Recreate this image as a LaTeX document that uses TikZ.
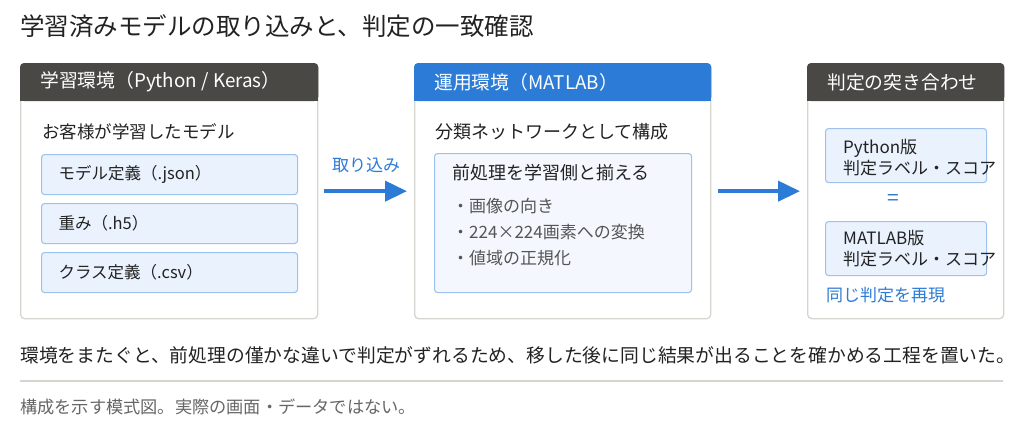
\documentclass[tikz,border=0pt]{standalone}
\usepackage{fontspec}
\setmainfont{Noto Sans CJK JP}
\usetikzlibrary{arrows.meta,positioning,calc}
\definecolor{hdark}{HTML}{4A4844}
\definecolor{hblue}{HTML}{2C7BD6}
\definecolor{ink}{HTML}{222222}
\definecolor{muted}{HTML}{555555}
\definecolor{faint}{HTML}{666666}
\definecolor{line}{HTML}{D6D6D1}
\definecolor{pale}{HTML}{EAF3FD}
\definecolor{paler}{HTML}{F4F8FE}
\definecolor{edge}{HTML}{9DC3EC}
\tikzset{arr/.style={-{Triangle[length=22pt,width=20pt]},line width=4pt,draw=hblue},
  panel/.style={rounded corners=4pt,draw=line,line width=1.3pt,fill=white,anchor=north west,minimum height=255pt},
  hdr/.style={anchor=west,text=white,inner sep=0pt,font=\fontsize{18.8}{22}\selectfont},
  txt/.style={anchor=west,text=ink,inner sep=0pt,font=\fontsize{17.5}{21}\selectfont},
  filebox/.style={rounded corners=3pt,draw=edge,line width=1.1pt,fill=pale,anchor=north west,minimum width=256pt,minimum height=40pt,text width=222pt,align=left,inner xsep=17pt,text=ink,font=\fontsize{16.5}{20}\selectfont},
  prebox/.style={rounded corners=3pt,draw=edge,line width=1.1pt,fill=paler,anchor=north west,minimum width=257pt,minimum height=139pt},
  resbox/.style={rounded corners=3pt,draw=edge,line width=1.1pt,fill=pale,anchor=north west,minimum width=161pt,minimum height=54pt}}
\begin{document}
\begin{tikzpicture}[x=1pt,y=-1pt]
\fill[white] (0,0) rectangle (1024,440);
\useasboundingbox (0,0) rectangle (1024,440);
\node[txt,font=\fontsize{24.5}{28}\selectfont] (title) at (20,26) {学習済みモデルの取り込みと、判定の一致確認};
% panels with their header bands
\foreach \nm/\xa/\w/\c/\lab in {learn/20/297/hdark/{学習環境（Python / Keras）},run/414/296/hblue/{運用環境（MATLAB）},judge/807/196/hdark/{判定の突き合わせ}}{
\node[panel,minimum width=\w pt] (\nm) at (\xa,63) {};
\fill[\c,rounded corners=4pt] (\nm.north west) rectangle ($(\nm.north east)+(0,38)$);
\fill[\c] ($(\nm.north west)+(0,30)$) rectangle ($(\nm.north east)+(0,38)$);
\node[hdr] (\nm-hd) at ($(\nm.north west)+(20,19)$) {\lab};
}
% training side
\node[txt] (learnsub) at (42,132) {お客様が学習したモデル};
\foreach \i/\ya/\lab in {1/154/{モデル定義（.json）},2/203/{重み（.h5）},3/252/{クラス定義（.csv）}}{
\node[filebox] (file\i) at (41,\ya) {\lab};
}
% runtime side
\node[txt,font=\fontsize{18}{22}\selectfont] (runsub) at (435,132) {分類ネットワークとして構成};
\node[prebox] (pre) at (434,153) {};
\node[txt,font=\fontsize{18}{22}\selectfont] (pretitle) at (452,173) {前処理を学習側と揃える};
\foreach \i/\ya/\lab in {1/206/{・画像の向き},2/232/{・224×224画素への変換},3/258/{・値域の正規化}}{
\node[txt,text=muted,font=\fontsize{17}{20}\selectfont] (pre\i) at (452,\ya) {\lab};
}
% comparison
\node[resbox] (pyres) at (825,128) {};
\node[txt,align=left,font=\fontsize{17}{21}\selectfont] (pytext) at (843,157.5) {Python版\\判定ラベル・スコア};
\node[text=hblue,inner sep=0pt,font=\fontsize{21}{22}\selectfont] (eq) at (893,200) {=};
\node[resbox] (mlres) at (825,221) {};
\node[txt,align=left,font=\fontsize{17}{21}\selectfont] (mltext) at (843,249) {MATLAB版\\判定ラベル・スコア};
\node[txt,text=hblue,font=\fontsize{17}{20}\selectfont] (same) at (826,295) {同じ判定を再現};
% arrows
\draw[arr,shorten <=6pt,shorten >=7pt] (learn) -- (run) node[midway,above=16pt,inner sep=0pt,text=hblue,font=\fontsize{17}{20}\selectfont] (implab) {取り込み};
\draw[arr,shorten <=7pt,shorten >=7pt] (run) -- (judge);
% notes
\node[txt,font=\fontsize{18.8}{22}\selectfont] (note) at (20,355) {環境をまたぐと、前処理の僅かな違いで判定がずれるため、移した後に同じ結果が出ることを確かめる工程を置いた。};
\draw[line,line width=2pt] (20,381) -- (1003,381);
\node[txt,text=faint,font=\fontsize{17.2}{20}\selectfont] (foot) at (20,407) {構成を示す模式図。実際の画面・データではない。};
\end{tikzpicture}
\end{document}
